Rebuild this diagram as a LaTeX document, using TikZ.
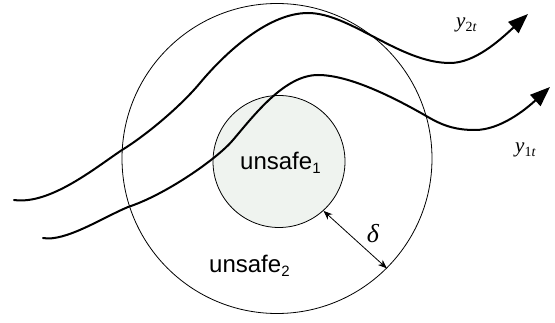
\documentclass[tikz,border=0pt]{standalone}
\usepackage{fontspec}
\setmainfont{Liberation Serif}
\setsansfont{Liberation Sans}
\usetikzlibrary{arrows.meta}
\definecolor{innerfill}{RGB}{239,243,239}
\tikzset{
  region/.style={circle, draw=black, line width=0.8pt, inner sep=0pt},
  traj/.style={line width=2pt, line cap=round, -{Triangle[length=20pt,width=15pt]}},
  sanslabel/.style={font=\sffamily\fontsize{24}{24}\selectfont, inner sep=0pt, anchor=base west},
  ylabel/.style={font=\rmfamily\fontsize{21}{21}\selectfont, inner sep=0pt, anchor=base west},
  gap/.style={line width=0.8pt, {Stealth[length=9pt,width=7pt]}-{Stealth[length=9pt,width=7pt]}}
}
\begin{document}
\begin{tikzpicture}[x=1pt,y=-1pt]
\useasboundingbox (0,0) rectangle (555,323);
\node[region, minimum size=310pt] (outer) at (277,158.5) {};
\node[region, fill=innerfill, minimum size=132pt] (inner) at (279,161.5) {};
% trajectory y2t
\coordinate (s2) at (14,200);
\coordinate (e2) at (528,14);
\draw[traj] (s2) .. controls (50,205) and (95,168) .. (122,150)
  .. controls (145,136) and (180,107) .. (200,83)
  .. controls (220,59) and (265,13) .. (308,13)
  .. controls (350,13) and (400,63) .. (450,63)
  .. controls (475,63) and (500,40) .. (e2);
% trajectory y1t
\coordinate (s1) at (43,238);
\coordinate (e1) at (550,87);
\draw[traj] (s1) .. controls (65,242) and (102,218) .. (128,207)
  .. controls (165,195) and (217,159) .. (233,140)
  .. controls (255,114) and (285,75) .. (318,75)
  .. controls (350,75) and (395,98) .. (428,117)
  .. controls (445,127) and (458,130) .. (475,130)
  .. controls (500,130) and (525,110) .. (e1);
% labels
\node[sanslabel] (u1) at (240,170) {unsafe\raisebox{-3.5pt}{\fontsize{15}{15}\selectfont 1}};
\node[sanslabel] (u2) at (209,273) {unsafe\raisebox{-3.5pt}{\fontsize{15}{15}\selectfont 2}};
\node[ylabel] (y2) at (456,28) {\textit{y}\raisebox{-4pt}{\fontsize{14}{14}\selectfont 2\textit{t}}};
\node[ylabel] (y1) at (515,153) {\textit{y}\raisebox{-4pt}{\fontsize{14}{14}\selectfont 1\textit{t}}};
\draw[gap] (inner.-48) -- (outer.-45.5);
\node[font=\rmfamily\itshape\fontsize{26}{26}\selectfont, inner sep=0pt] (d) at (373,234) {δ};
\end{tikzpicture}
\end{document}
